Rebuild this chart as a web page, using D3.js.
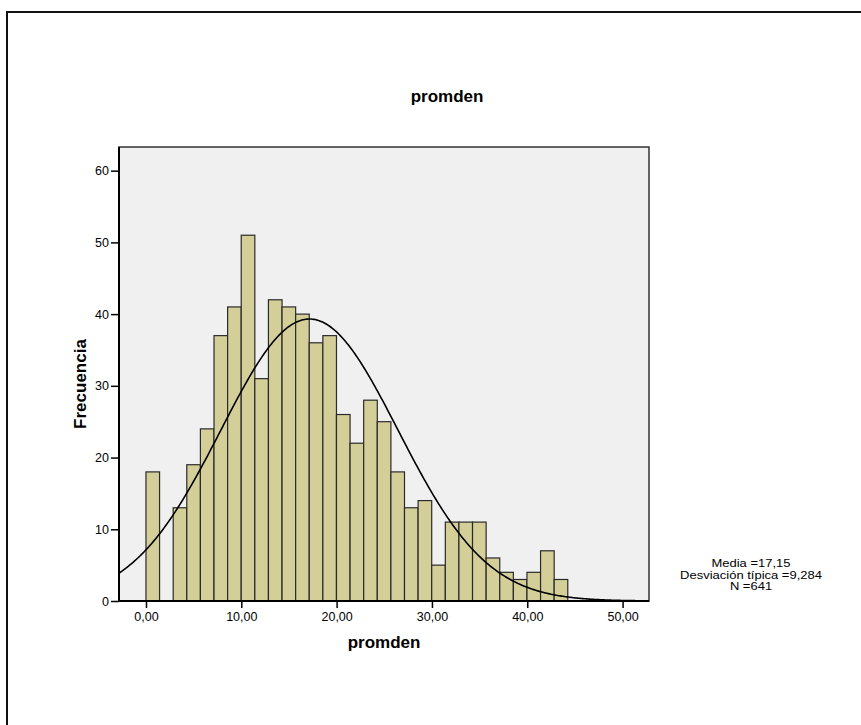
<!DOCTYPE html>
<html>
<head>
<meta charset="utf-8">
<script src="https://cdn.jsdelivr.net/npm/d3@7"></script>
<style>
  body { margin: 0; background: #fff; }
  text { font-family: "Liberation Sans", Arial, sans-serif; fill: #000; }
</style>
</head>
<body>
<svg id="chart"></svg>
<script>
// histogram of promden (counts per bin)
var binStart = 0
var binWidth = 1.4274
var counts = [18, 0, 13, 19, 24, 37, 41, 51, 31, 42, 41, 40, 36, 37, 26, 22,
              28, 25, 18, 13, 14, 5, 11, 11, 11, 6, 4, 3, 4, 7, 3]
var xTicks = [0, 10, 20, 30, 40, 50]
var yTicks = [0, 10, 20, 30, 40, 50, 60]
var stats = { mean: 17.15, sd: 9.284, n: 641 }
var legendLines = ['Media =17,15', 'Desviación típica =9,284', 'N =641']

var width = 861, height = 725
var plotL = 119, plotR = 649, plotT = 147, plotB = 601

var svg = d3.select('#chart')
    .attr('width', width)
    .attr('height', height)

var es = d3.formatLocale({ decimal: ',', thousands: '.', grouping: [3], currency: ['', '€'] })
var fmt = es.format('.2f')

// outer frame (runs off the right and bottom edge)
svg.append('rect')
    .attr('x', 7).attr('y', 12)
    .attr('width', 920).attr('height', 800)
    .attr('fill', 'none')
    .attr('stroke', '#111')
    .attr('stroke-width', 2)

var x = d3.scaleLinear()
    .domain([-2.83, 52.77])
    .range([plotL, plotR])

var y = d3.scaleLinear()
    .domain([0, 63.3])
    .range([plotB, plotT])

// plot background
svg.append('rect')
    .attr('x', plotL).attr('y', plotT)
    .attr('width', plotR - plotL).attr('height', plotB - plotT)
    .attr('fill', '#f0f0f0')
    .attr('stroke', '#333')
    .attr('stroke-width', 1.5)

var bins = counts.map(function(c, i) {
    return { x0: binStart + i * binWidth, x1: binStart + (i + 1) * binWidth, count: c }
}).filter(function(d) { return d.count > 0 })

svg.append('g').selectAll('rect')
    .data(bins)
    .enter().append('rect')
    .attr('x', function(d) { return x(d.x0) })
    .attr('width', function(d) { return x(d.x1) - x(d.x0) })
    .attr('y', function(d) { return y(d.count) })
    .attr('height', function(d) { return y(0) - y(d.count) })
    .attr('fill', '#d4cf98')
    .attr('stroke', '#2a2a2a')
    .attr('stroke-width', 1.2)

// normal curve scaled to counts
var scale = stats.n * binWidth / (stats.sd * Math.sqrt(2 * Math.PI))
var curvePts = d3.range(0, 401).map(function(i) {
    var v = x.domain()[0] + (x.domain()[1] - x.domain()[0]) * i / 400
    var z = (v - stats.mean) / stats.sd
    return [v, scale * Math.exp(-0.5 * z * z)]
})
svg.append('path')
    .datum(curvePts)
    .attr('fill', 'none')
    .attr('stroke', '#000')
    .attr('stroke-width', 1.6)
    .attr('d', d3.line()
        .x(function(d) { return x(d[0]) })
        .y(function(d) { return y(d[1]) }))

// axes
svg.append('g')
    .attr('transform', 'translate(0,' + plotB + ')')
    .call(d3.axisBottom(x).tickValues(xTicks).tickFormat(fmt).tickSize(7).tickPadding(4))
svg.append('g')
    .attr('transform', 'translate(' + plotL + ',0)')
    .call(d3.axisLeft(y).tickValues(yTicks).tickFormat(d3.format('d')).tickSize(8).tickPadding(2))

svg.selectAll('.domain').remove()
svg.append('line')
    .attr('x1', plotL).attr('x2', plotL).attr('y1', plotT).attr('y2', plotB + 1)
    .attr('stroke', '#000').attr('stroke-width', 2)
svg.append('line')
    .attr('x1', plotL).attr('x2', plotR).attr('y1', plotB).attr('y2', plotB)
    .attr('stroke', '#000').attr('stroke-width', 2)

svg.selectAll('.tick line').attr('stroke', '#000').attr('stroke-width', 1.5)
svg.selectAll('.tick text').attr('font-size', 12.5).attr('fill', '#000')
    .attr('font-family', '"Liberation Sans", Arial, sans-serif')

// titles
svg.append('text')
    .attr('x', 447).attr('y', 102)
    .attr('text-anchor', 'middle')
    .attr('font-size', 17).attr('font-weight', 'bold')
    .text('promden')

svg.append('text')
    .attr('x', (plotL + plotR) / 2).attr('y', 648)
    .attr('text-anchor', 'middle')
    .attr('font-size', 17).attr('font-weight', 'bold')
    .text('promden')

svg.append('text')
    .attr('transform', 'translate(86,384) rotate(-90)')
    .attr('text-anchor', 'middle')
    .attr('font-size', 17).attr('font-weight', 'bold')
    .text('Frecuencia')

// stats legend (slightly wide lettering, as in the original)
svg.append('g').selectAll('text')
    .data(legendLines)
    .enter().append('text')
    .attr('transform', function(d, i) { return 'translate(751,' + (567 + i * 11.5) + ') scale(1.3,1)' })
    .attr('text-anchor', 'middle')
    .attr('font-size', 10)
    .text(function(d) { return d })
</script>
</body>
</html>
